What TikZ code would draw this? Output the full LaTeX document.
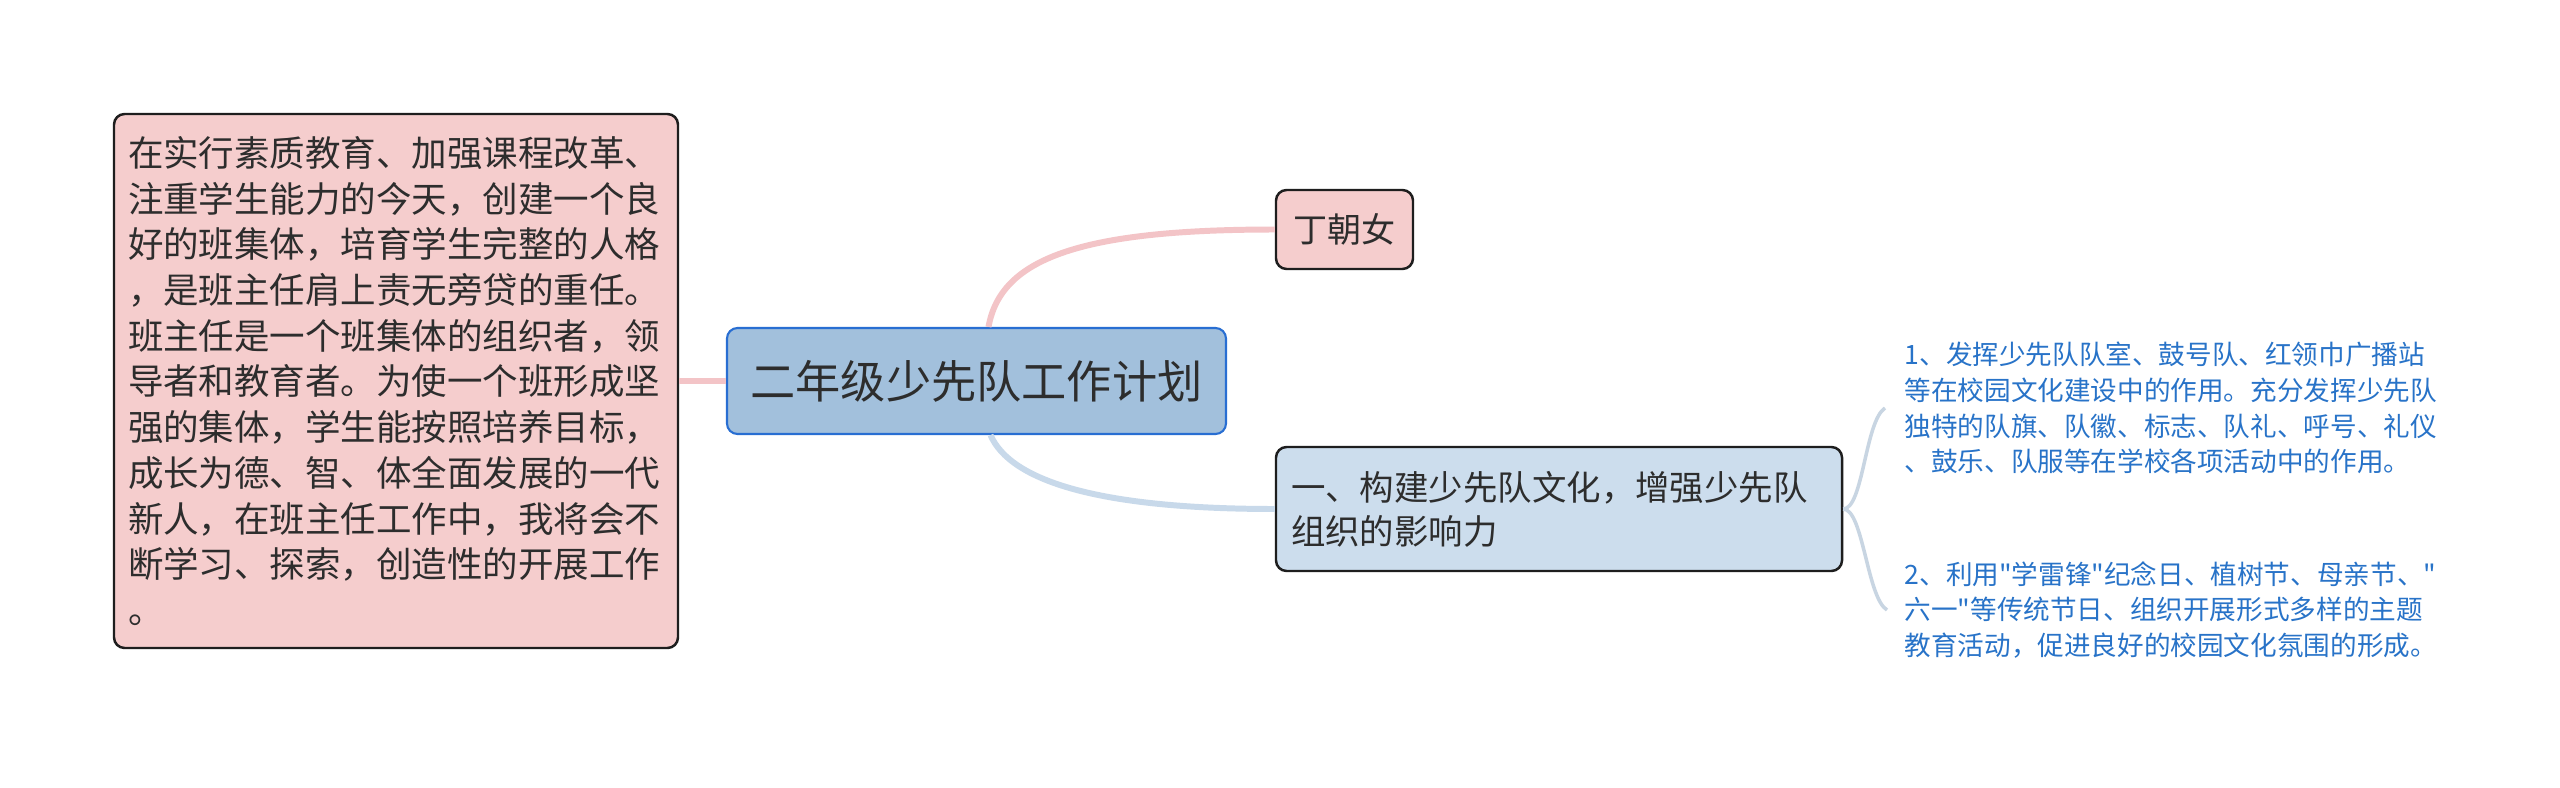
\documentclass[tikz,border=0pt]{standalone}
\usepackage{fontspec}
\newfontfamily\cjk{Noto Sans CJK SC}
\usepackage{xcolor}
\definecolor{mmpink}{RGB}{245,205,205}
\definecolor{mmpinkline}{RGB}{243,196,199}
\definecolor{mmtopic}{RGB}{162,192,220}
\definecolor{mmtopicborder}{RGB}{40,110,210}
\definecolor{mmlightblue}{RGB}{204,221,237}
\definecolor{mmblueline}{RGB}{200,217,234}
\definecolor{mmtwig}{RGB}{200,213,226}
\definecolor{mmborder}{RGB}{30,30,30}
\definecolor{mmtext}{RGB}{45,45,45}
\definecolor{mmbluetext}{RGB}{40,115,200}
\usepackage{tikz}
\usetikzlibrary{positioning}

\begin{document}
\begin{tikzpicture}[
    box/.style={draw=mmborder, line width=0.7pt, rounded corners=3pt, text=mmtext, inner sep=0pt},
    note/.style={inner sep=0pt, align=left, text=mmbluetext, font=\cjk\fontsize{7.57}{10.2}\selectfont},
    pinkline/.style={mmpinkline, line width=1.7pt},
    blueline/.style={mmblueline, line width=1.7pt},
    twig/.style={mmtwig, line width=1pt}
  ]
  \useasboundingbox (0,0) rectangle (25.6,-7.88);
  \fill[white] (0,0) rectangle (25.6,-7.88);

  % central topic
  \node[box, draw=mmtopicborder, line width=0.6pt, fill=mmtopic, minimum width=4.99cm, minimum height=1.06cm,
        font=\cjk\fontsize{12.86}{15}\selectfont] (topic) at (9.765,-3.81) {二年级少先队工作计划};

  % left intro box
  \node[box, fill=mmpink, minimum width=5.64cm, minimum height=5.34cm, text width=5.36cm, align=left,
        font=\cjk\fontsize{10.1}{13.0}\selectfont] (intro) at (3.96,-3.81)
       {在实行素质教育、加强课程改革、\\
        注重学生能力的今天，创建一个良\\
        好的班集体，培育学生完整的人格\\
        ，是班主任肩上责无旁贷的重任。\\
        班主任是一个班集体的组织者，领\\
        导者和教育者。为使一个班形成坚\\
        强的集体，学生能按照培养目标，\\
        成长为德、智、体全面发展的一代\\
        新人，在班主任工作中，我将会不\\
        断学习、探索，创造性的开展工作\\
        。};

  % right branches
  \node[box, fill=mmpink, minimum width=1.37cm, minimum height=0.79cm,
        font=\cjk\fontsize{9.7}{12}\selectfont] (author) at (13.445,-2.295) {丁朝女};
  \node[box, fill=mmlightblue, minimum width=5.66cm, minimum height=1.24cm, text width=5.36cm, align=left,
        font=\cjk\fontsize{9.8}{12.5}\selectfont] (part) at (15.59,-5.09)
       {一、构建少先队文化，增强少先队\\
        组织的影响力};

  % sub points
  \node[note, anchor=west] (note1) at (19.04,-4.08)
       {1、发挥少先队队室、鼓号队、红领巾广播站\\
        等在校园文化建设中的作用。充分发挥少先队\\
        独特的队旗、队徽、标志、队礼、呼号、礼仪\\
        、鼓乐、队服等在学校各项活动中的作用。};
  \node[note, anchor=west] (note2) at (19.04,-6.10)
       {2、利用"学雷锋"纪念日、植树节、母亲节、"\\
        六一"等传统节日、组织开展形式多样的主题\\
        教育活动，促进良好的校园文化氛围的形成。};

  % connectors
  \draw[pinkline] (intro.east) -- (topic.west);
  \draw[pinkline] ([xshift=0.12cm]topic.north) .. controls +(0.12,0.68) and +(-1.96,0) .. (author.west);
  \draw[blueline] ([xshift=0.14cm]topic.south) .. controls +(0.2,-0.46) and +(-1.76,0) .. (part.west);
  \draw[twig] (part.east) .. controls +(0.2,0) and +(-0.2,-0.13) .. ([xshift=-0.19cm]note1.west);
  \draw[twig] (part.east) .. controls +(0.2,0) and +(-0.2,0.12) .. ([xshift=-0.17cm]note2.west);
\end{tikzpicture}
\end{document}
